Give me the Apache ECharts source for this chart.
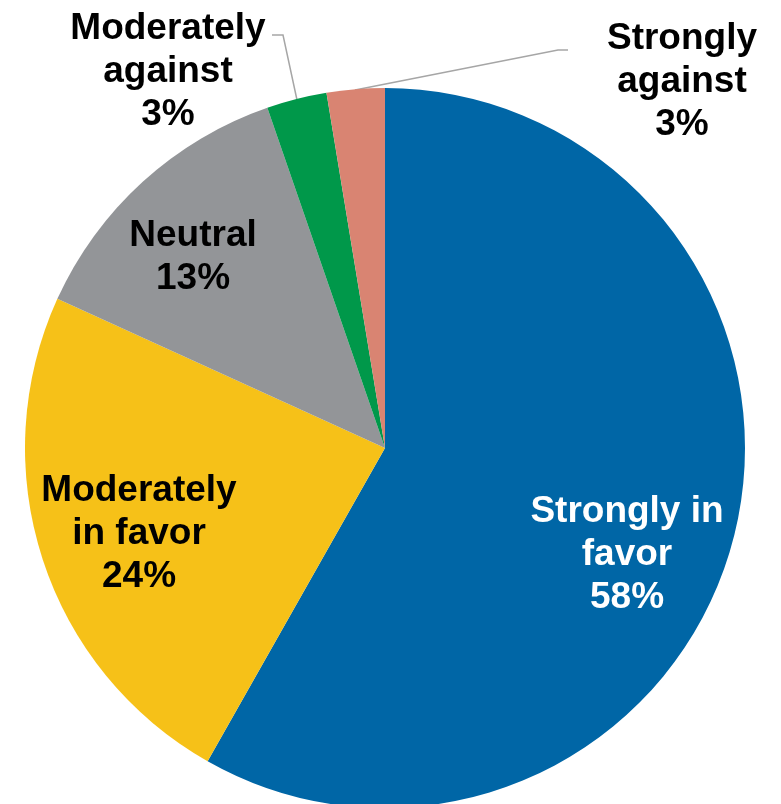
<!DOCTYPE html>
<html>
<head>
<meta charset="utf-8">
<script src="https://cdn.jsdelivr.net/npm/echarts@6/dist/echarts.min.js"></script>
<style>
html,body{margin:0;padding:0;background:#fff;}
#chart{width:781px;height:804px;}
</style>
</head>
<body>
<div id="chart"></div>
<script>
// Data
var categories = ["Strongly in favor", "Moderately in favor", "Neutral", "Moderately against", "Strongly against"];
var labelTexts = ["Strongly in\nfavor", "Moderately\nin favor", "Neutral", "Moderately\nagainst", "Strongly\nagainst"];
var values = [58.2, 23.6, 12.9, 2.7, 2.6];
var percentLabels = ["58%", "24%", "13%", "3%", "3%"];

// Styles
var colors = ["#0066A6", "#F6C118", "#939598", "#00984A", "#D98472"];
var textColors = ["#ffffff", "#000000", "#000000", "#000000", "#000000"];
var outsideIdx = [3, 4];
var labelPos = [[627, 555], [139, 534], [193, 257], [168, 72], [682, 82]];
var leaderPts = {
  3: [[297, 100], [283, 35], [272, 35]],
  4: [[355, 90], [558, 50], [568, 50]]
};

var chart = echarts.init(document.getElementById('chart'), null, {renderer: 'canvas'});

var data = categories.map(function (c, i) {
  var isOut = outsideIdx.indexOf(i) >= 0;
  return {
    name: c,
    value: values[i],
    itemStyle: {color: colors[i]},
    label: {
      position: isOut ? 'outside' : 'inside',
      color: textColors[i]
    },
    labelLine: {show: isOut}
  };
});

chart.setOption({
  animation: false,
  series: [{
    type: 'pie',
    center: [385, 448],
    radius: [0, 360],
    startAngle: 90,
    clockwise: true,
    avoidLabelOverlap: false,
    data: data,
    label: {
      show: true,
      fontFamily: '"Liberation Sans", Arial, sans-serif',
      fontWeight: 'bold',
      fontSize: 37,
      lineHeight: 43,
      align: 'center',
      formatter: function (p) {
        return labelTexts[p.dataIndex] + '\n' + percentLabels[p.dataIndex];
      }
    },
    labelLine: {
      lineStyle: {color: '#A6A6A6', width: 1.5},
      length: 20,
      length2: 10
    },
    labelLayout: function (p) {
      var i = p.dataIndex;
      var r = {
        x: labelPos[i][0],
        y: labelPos[i][1],
        align: 'center',
        verticalAlign: 'middle'
      };
      if (leaderPts[i]) r.labelLinePoints = leaderPts[i];
      return r;
    },
    emphasis: {disabled: true}
  }]
});
</script>
</body>
</html>
